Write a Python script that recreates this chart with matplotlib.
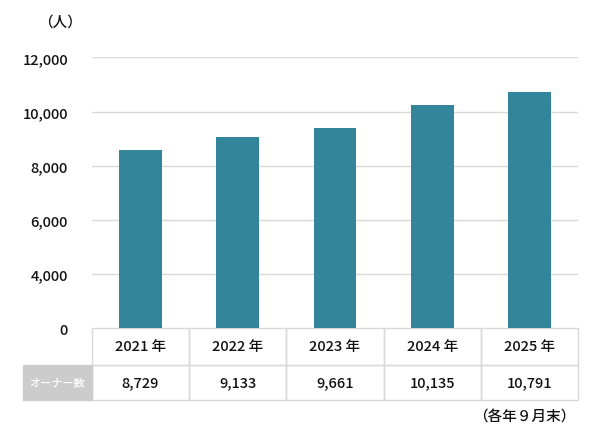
import matplotlib
matplotlib.use('Agg')
import matplotlib.pyplot as plt
from matplotlib.patches import Rectangle
import matplotlib.transforms as mtransforms

plt.rcParams['font.family'] = ['Noto Sans CJK JP', 'DejaVu Sans']
plt.rcParams['font.weight'] = 'medium'

years = ['2021 年', '2022 年', '2023 年', '2024 年', '2025 年']
owners = [8729, 9133, 9661, 10135, 10791]
# bar heights as drawn in the picture (axis starts at 2,000 shown as "0")
bar_heights = [8580, 9050, 9385, 10230, 10710]
ytick_vals = [2000, 4000, 6000, 8000, 10000, 12000]
ytick_labels = ['0', '4,000', '6,000', '8,000', '10,000', '12,000']

bar_color = '#32859b'
grid_color = '#d9d9d9'
text_color = '#111111'

fig = plt.figure(figsize=(5.95, 4.31), dpi=100)
ax = fig.add_axes([91.7 / 595, (431 - 329.3) / 431, (578.3 - 91.7) / 595, (329.3 - 58.3) / 431])

x = range(len(years))
ax.bar(x, bar_heights, width=0.44, color=bar_color, zorder=3)
ax.set_xlim(-0.5, len(years) - 0.5)
ax.set_ylim(2000, 12000)
ax.set_yticks(ytick_vals)
ax.set_yticklabels(ytick_labels, fontsize=10.5, color=text_color)
ax.set_xticks([])
ax.tick_params(axis='y', length=0, pad=17)
for s in ax.spines.values():
    s.set_visible(False)
for v in ytick_vals[1:]:
    ax.axhline(v, color=grid_color, lw=1, zorder=1)

# data table under the bars
trans = mtransforms.blended_transform_factory(ax.transData, ax.transAxes)
r1 = -(365.7 - 329.3) / 271
r2 = -(401.3 - 329.3) / 271
for i in range(len(years)):
    ax.add_patch(Rectangle((i - 0.5, r1), 1, -r1, transform=trans, fill=False,
                           ec=grid_color, lw=1, clip_on=False))
    ax.add_patch(Rectangle((i - 0.5, r2), 1, r1 - r2, transform=trans, fill=False,
                           ec=grid_color, lw=1, clip_on=False))
    ax.text(i, r1 / 2, years[i], transform=trans, ha='center', va='center',
            fontsize=10.5, color=text_color)
    ax.text(i, (r1 + r2) / 2, f'{owners[i]:,}', transform=trans, ha='center',
            va='center', fontsize=10.5, color=text_color)

lab_left = -0.5 - 69 / 97.3
ax.add_patch(Rectangle((lab_left, r2), -0.5 - lab_left, r1 - r2, transform=trans,
                       fc='#cccccc', ec='#cccccc', lw=1, clip_on=False))
ax.text((lab_left - 0.5) / 2, (r1 + r2) / 2, 'オーナー数', transform=trans,
        ha='center', va='center', fontsize=8, color='white')

fig.text(60 / 595, 1 - 23 / 431, '（人）', ha='center', va='center', fontsize=10.5, color=text_color)
fig.text(575 / 595, 1 - 418 / 431, '（各年９月末）', ha='right', va='center', fontsize=10.5, color=text_color)

fig.savefig('out.png', dpi=100)
